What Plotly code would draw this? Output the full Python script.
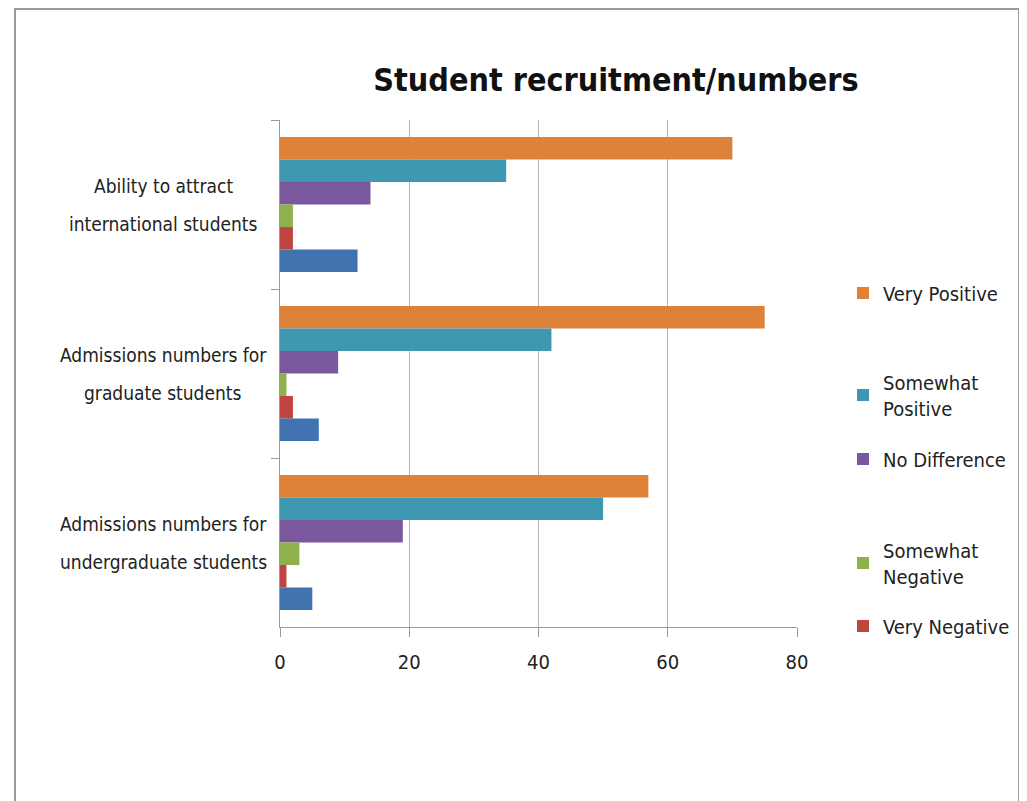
import plotly.graph_objects as go

categories = ["Ability to attract<br>international students",
              "Admissions numbers for<br>graduate students",
              "Admissions numbers for<br>undergraduate students"]
series_names = ["Very Positive", "Somewhat<br>Positive", "No Difference",
                "Somewhat<br>Negative", "Very Negative", "No Response"]
very_positive = [70, 75, 57]
somewhat_positive = [35, 42, 50]
no_difference = [14, 9, 19]
somewhat_negative = [2, 1, 3]
very_negative = [2, 2, 1]
no_response = [12, 6, 5]
x_ticks = [0, 20, 40, 60, 80]

series_values = [very_positive, somewhat_positive, no_difference,
                 somewhat_negative, very_negative, no_response]
colors = ["#DE8239", "#3E98B1", "#7B589D", "#8FB14D", "#C0443F", "#4173B0"]

# page offset caused by default body margin
OFF = 8
W, H = 1027 - OFF, 801 - OFF
# plot area in page pixels
L, R, T, B = 280, 797, 120, 627
pw, ph = R - L, B - T
def px2x(p): return (p - L) / pw
def px2y(p): return (B - p) / ph

FONT = "DejaVu Sans Condensed, Liberation Sans, sans-serif"
fig = go.Figure()
legend_px = [293, 395, 459, 563, 626]
legend_keys = ["legend", "legend2", "legend3", "legend4", "legend5"]
for i, (name, vals, col) in enumerate(zip(series_names, series_values, colors)):
    kw = {}
    if i < 5:
        kw["legend"] = legend_keys[i]
        kw["showlegend"] = True
    else:
        kw["showlegend"] = False
    fig.add_trace(go.Bar(y=categories, x=vals, name=name, orientation="h",
                         marker=dict(color=col, line=dict(width=0)), **kw))

layout_legends = {}
for key, p in zip(legend_keys, legend_px):
    layout_legends[key] = dict(x=px2x(843), y=px2y(p), xanchor="left", yanchor="middle",
                               font=dict(family=FONT, size=20, color="#222"),
                               bgcolor="rgba(0,0,0,0)", borderwidth=0)

fig.update_layout(
    width=W, height=H,
    margin=dict(l=L - OFF, r=W - (R - OFF), t=T - OFF, b=H - (B - OFF)),
    paper_bgcolor="white", plot_bgcolor="white",
    barmode="group", bargap=0.2, bargroupgap=0,
    title=dict(text="<b>Student recruitment/numbers</b>", x=px2x(616), xref="paper",
               xanchor="center", y=1 - (80 - OFF) / H, yanchor="middle",
               font=dict(family=FONT, size=32, color="#111")),
    xaxis=dict(range=[0, 80], tickvals=x_ticks, ticks="outside", ticklen=9,
               tickcolor="#9a9a9a", showline=True, linecolor="#9a9a9a", linewidth=1,
               showgrid=True, gridcolor="#b5b5b5", gridwidth=1, zeroline=False,
               tickfont=dict(family=FONT, size=20, color="#222"), ticklabelstandoff=8),
    yaxis=dict(autorange="reversed", showticklabels=False, ticks="outside", ticklen=8,
               tickcolor="#9a9a9a", tickson="boundaries", showline=True,
               linecolor="#9a9a9a", linewidth=1, showgrid=False, zeroline=False),
    showlegend=True,
    **layout_legends,
)

# category labels, centred lines
for ci, cat in enumerate(categories):
    lines = cat.split("<br>")
    n = len(lines)
    for li, line in enumerate(lines):
        offset = (li - (n - 1) / 2) * 38
        fig.add_annotation(text=line, xref="paper", yref="y", x=px2x(163), y=cat,
                           yshift=-offset, xanchor="center", yanchor="middle",
                           showarrow=False, font=dict(family=FONT, size=19, color="#222"))

# outer frame
fig.add_shape(type="rect", xref="paper", yref="paper",
              x0=px2x(15), x1=px2x(1019), y0=px2y(810), y1=px2y(9),
              line=dict(color="#9a9a9a", width=2), fillcolor="rgba(0,0,0,0)")

fig.write_html("out.html")
